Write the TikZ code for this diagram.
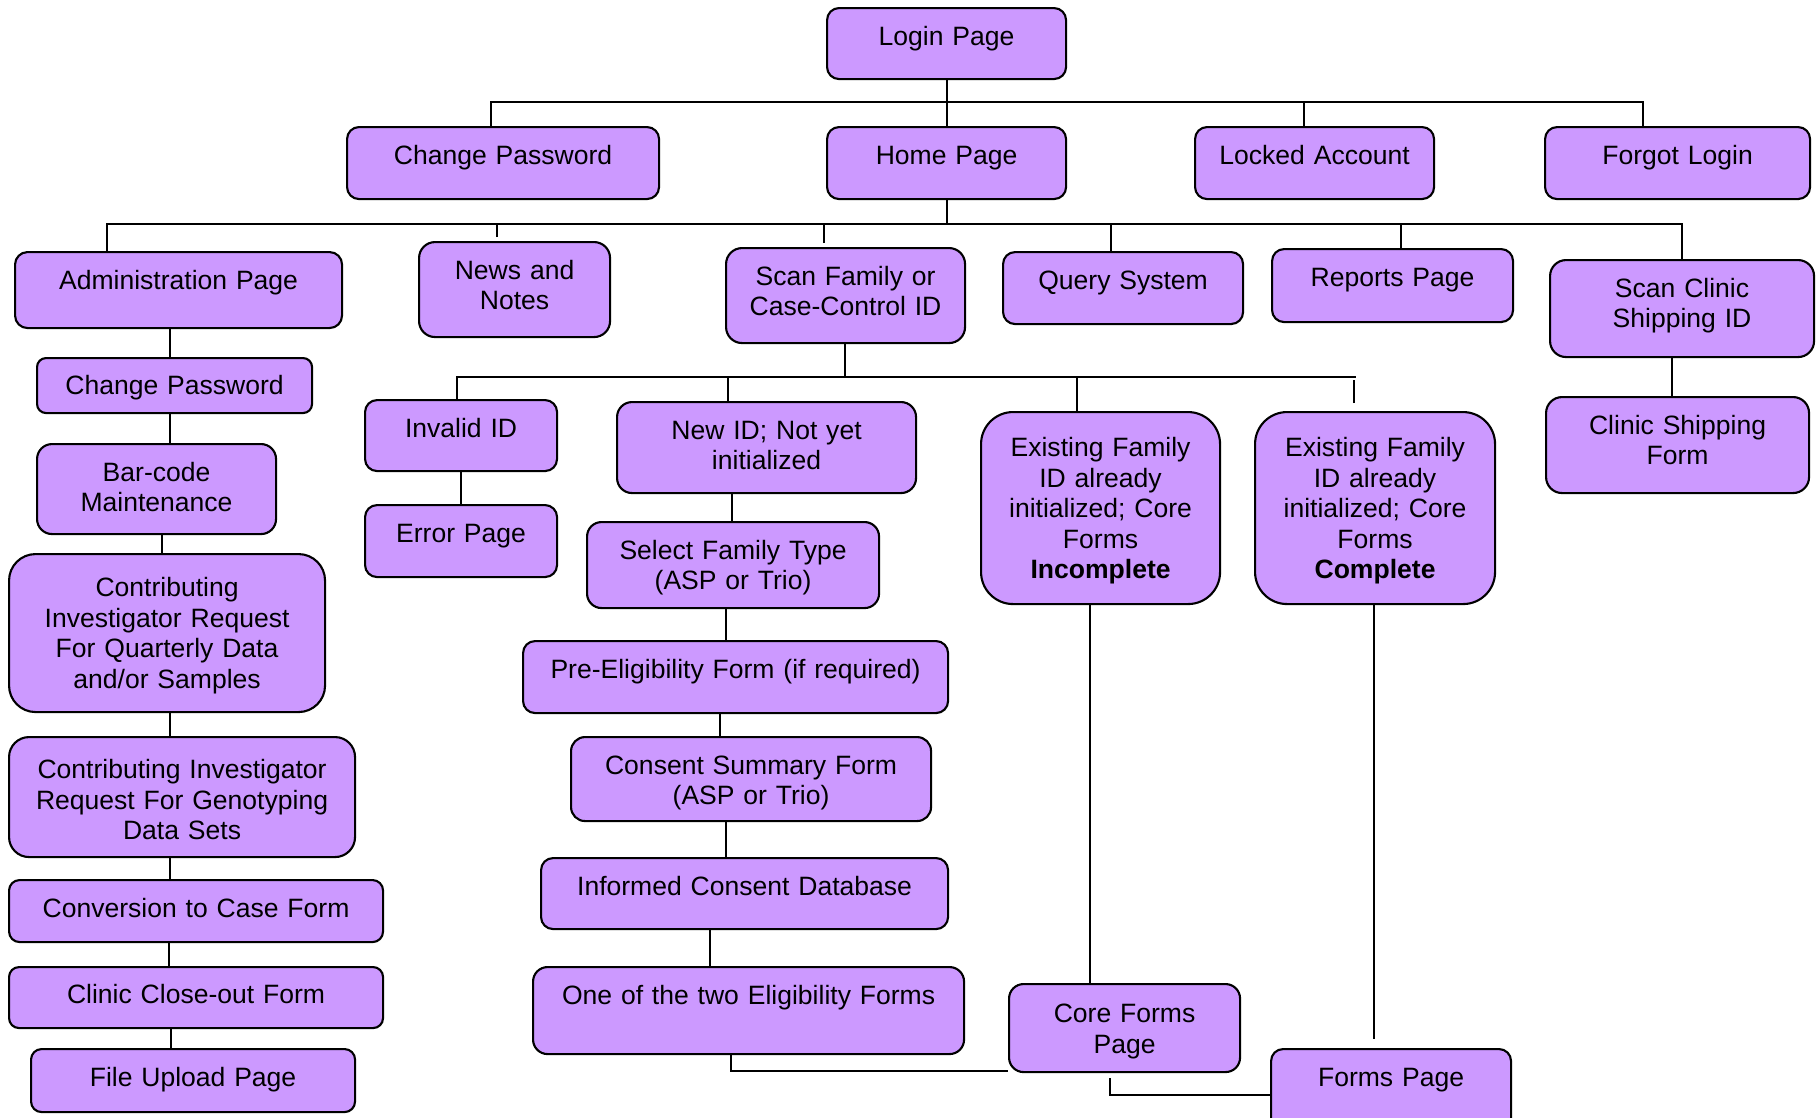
\documentclass[tikz,border=0pt]{standalone}
\usepackage{fontspec}
\setmainfont{Liberation Sans}
\definecolor{pagefill}{RGB}{204,153,255}
\tikzset{
  pagebox/.style={draw, line width=1.2pt, fill=pagefill, rounded corners=0.24cm,
    anchor=north west, align=center, inner xsep=0pt, inner ysep=0pt,
    text height=0.74cm},
  link/.style={line width=1pt}
}
\begin{document}
\begin{tikzpicture}[font=\fontsize{15.1pt}{17.4pt}\selectfont]
\useasboundingbox (0,0) rectangle (36.32,-22.34);

% top levels
\node[pagebox, text width=4.78cm, text depth=0.68cm] (login) at (16.52,-0.14) {Login Page};
\node[pagebox, text width=6.24cm, text depth=0.70cm] (chpw) at (6.92,-2.52) {Change Password};
\node[pagebox, text width=4.78cm, text depth=0.70cm] (home) at (16.52,-2.52) {Home Page};
\node[pagebox, text width=4.78cm, text depth=0.70cm] (locked) at (23.88,-2.52) {Locked Account};
\node[pagebox, text width=5.30cm, text depth=0.70cm] (forgot) at (30.88,-2.52) {Forgot Login};

\node[pagebox, text width=6.54cm, text depth=0.78cm, rounded corners=0.25cm] (admin) at (0.28,-5.02) {Administration Page};
\node[pagebox, text width=3.82cm, text depth=1.16cm, rounded corners=0.32cm] (news) at (8.36,-4.82) {News and\\Notes};
\node[pagebox, text width=4.78cm, text depth=1.16cm, rounded corners=0.32cm] (scanfam) at (14.50,-4.94) {Scan Family or\\Case-Control ID};
\node[pagebox, text width=4.80cm, text depth=0.70cm] (query) at (20.04,-5.02) {Query System};
\node[pagebox, text width=4.82cm, text depth=0.72cm] (reports) at (25.42,-4.96) {Reports Page};
\node[pagebox, text width=5.28cm, text depth=1.20cm, rounded corners=0.32cm] (scanclinic) at (30.98,-5.18) {Scan Clinic\\Shipping ID};

% administration column
\node[pagebox, text width=5.50cm, text height=0.73cm, text depth=0.37cm, rounded corners=0.18cm] (adminpw) at (0.72,-7.14) {Change Password};
\node[pagebox, text width=4.78cm, text depth=1.06cm, rounded corners=0.30cm] (barcode) at (0.72,-8.86) {Bar-code\\Maintenance};
\node[pagebox, text width=6.32cm, text height=0.85cm, text depth=2.31cm, rounded corners=0.53cm] (cireq) at (0.16,-11.06) {Contributing\\Investigator Request\\For Quarterly Data\\and/or Samples};
\node[pagebox, text width=6.92cm, text height=0.83cm, text depth=1.57cm, rounded corners=0.40cm] (cigeno) at (0.16,-14.72) {Contributing Investigator\\Request For Genotyping\\Data Sets};
\node[pagebox, text width=7.48cm, text height=0.75cm, text depth=0.49cm, rounded corners=0.21cm] (conv) at (0.16,-17.58) {Conversion to Case Form};
\node[pagebox, text width=7.48cm, text height=0.73cm, text depth=0.49cm, rounded corners=0.20cm] (closeout) at (0.16,-19.32) {Clinic Close-out Form};
\node[pagebox, text width=6.48cm, text depth=0.52cm, rounded corners=0.21cm] (upload) at (0.60,-20.96) {File Upload Page};

% scan family branch
\node[pagebox, text width=3.84cm, text height=0.75cm, text depth=0.67cm] (invalid) at (7.28,-7.98) {Invalid ID};
\node[pagebox, text width=3.84cm, text depth=0.70cm] (error) at (7.28,-10.08) {Error Page};
\node[pagebox, text width=5.98cm, text depth=1.08cm, rounded corners=0.30cm] (newid) at (12.32,-8.02) {New ID; Not yet\\initialized};
\node[pagebox, text width=5.84cm, text depth=0.98cm, rounded corners=0.29cm] (select) at (11.72,-10.42) {Select Family Type\\(ASP or Trio)};
\node[pagebox, text width=8.50cm, text depth=0.70cm] (preelig) at (10.44,-12.80) {Pre-Eligibility Form (if required)};
\node[pagebox, text width=7.20cm, text depth=0.94cm, rounded corners=0.28cm] (consent) at (11.40,-14.72) {Consent Summary Form\\(ASP or Trio)};
\node[pagebox, text width=8.14cm, text depth=0.68cm] (informed) at (10.80,-17.14) {Informed Consent Database};
\node[pagebox, text width=8.62cm, text depth=1.00cm, rounded corners=0.29cm] (elig) at (10.64,-19.32) {One of the two Eligibility Forms};
\node[pagebox, text width=4.78cm, text height=0.89cm, text depth=2.95cm, rounded corners=0.64cm] (incomplete) at (19.60,-8.22) {Existing Family\\ID already\\initialized; Core\\Forms\\\textbf{Incomplete}};
\node[pagebox, text width=4.80cm, text height=0.89cm, text depth=2.95cm, rounded corners=0.64cm] (complete) at (25.08,-8.22) {Existing Family\\ID already\\initialized; Core\\Forms\\\textbf{Complete}};
\node[pagebox, text width=4.62cm, text height=0.77cm, text depth=0.99cm, rounded corners=0.29cm] (core) at (20.16,-19.66) {Core Forms\\Page};
\node[pagebox, text width=4.80cm, text depth=0.96cm] (forms) at (25.40,-20.96) {Forms Page};
\node[pagebox, text width=5.26cm, text depth=1.18cm, rounded corners=0.32cm] (shipform) at (30.90,-7.92) {Clinic Shipping\\Form};

% login page links
\draw[link] (login.south -| 18.94,0) -- (home.north -| 18.94,0);
\draw[link] ([xshift=-0.24cm]chpw.north) -- ++(0,0.48) -| ([xshift=-0.69cm]forgot.north);
\draw[link] ([xshift=-0.21cm]locked.north) -- ++(0,0.48);

% home page links
\draw[link] (home.south -| 18.94,0) -- ++(0,-0.48) coordinate (hb);
\draw[link] ([xshift=-1.43cm]admin.north) |- (hb) -| (scanclinic.north);
\draw[link, shorten <=0.08cm] (news.north -| 9.94,0) -- (hb -| 9.94,0);
\draw[link, shorten <=0.08cm] (scanfam.north -| 16.48,0) -- (hb -| 16.48,0);
\draw[link] (query.north -| 22.22,0) -- (hb -| 22.22,0);
\draw[link] (reports.north -| 28.02,0) -- (hb -| 28.02,0);
\draw[link] (scanclinic.south -| 33.44,0) -- (shipform.north -| 33.44,0);

% administration chain
\draw[link] (admin.south -| 3.4,0) -- (adminpw.north -| 3.4,0);
\draw[link] (adminpw.south -| 3.4,0) -- (barcode.north -| 3.4,0);
\draw[link] (barcode.south -| 3.24,0) -- (cireq.north -| 3.24,0);
\draw[link] (cireq.south -| 3.4,0) -- (cigeno.north -| 3.4,0);
\draw[link] (cigeno.south -| 3.4,0) -- (conv.north -| 3.4,0);
\draw[link] (conv.south -| 3.38,0) -- (closeout.north -| 3.38,0);
\draw[link] (closeout.south -| 3.42,0) -- (upload.north -| 3.42,0);

% scan family links
\draw[link] (scanfam.south -| 16.9,0) -- ++(0,-0.66) coordinate (sb);
\draw[link] (invalid.north -| 9.14,0) |- (sb) -- (sb -| 27.12,0);
\draw[link] (invalid) -- (error);
\draw[link] (newid.north -| 14.56,0) -- (sb -| 14.56,0);
\draw[link] (incomplete.north -| 21.54,0) -- (sb -| 21.54,0);
\draw[link, shorten <=0.16cm, shorten >=0.06cm] (complete.north -| 27.08,0) -- (sb -| 27.08,0);

\draw[link] (newid.south -| 14.64,0) -- (select.north -| 14.64,0);
\draw[link] (select.south -| 14.52,0) -- (preelig.north -| 14.52,0);
\draw[link] (preelig.south -| 14.40,0) -- (consent.north -| 14.40,0);
\draw[link] (consent.south -| 14.52,0) -- (informed.north -| 14.52,0);
\draw[link] (informed.south -| 14.20,0) -- (elig.north -| 14.20,0);

\draw[link] (incomplete.south -| 21.8,0) -- (core.north -| 21.8,0);
\draw[link, shorten >=0.18cm] (complete.south -| 27.48,0) -- (forms.north -| 27.48,0);
\draw[link] (elig.south -| 14.62,0) |- ([yshift=0.04cm]core.south west);
\draw[link] (core.south -| 22.2,0) ++(0,-0.1) |- ([yshift=-0.94cm]forms.north west);
\end{tikzpicture}
\end{document}
